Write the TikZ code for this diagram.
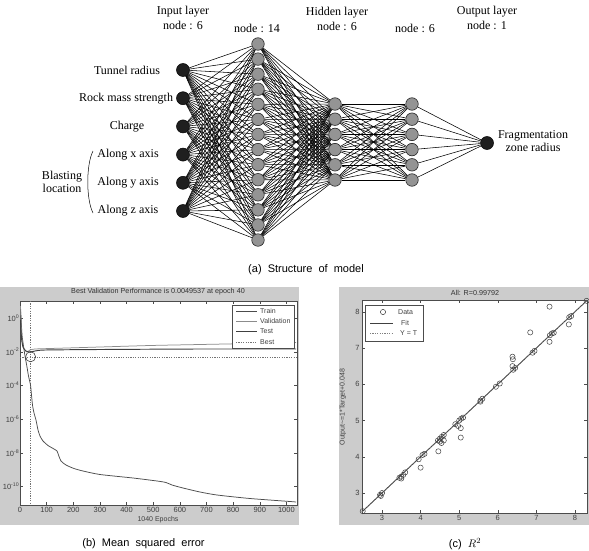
\documentclass[tikz,border=0pt]{standalone}
\usepackage{fontspec}
\setmainfont{Liberation Serif}
\newfontfamily\plotfont{Liberation Sans}
\begin{document}
\begin{tikzpicture}[x=1pt,y=-1pt,
  nin/.style={circle, fill=black!88, draw=black, line width=0.5pt, minimum size=13pt, inner sep=0pt},
  nhid/.style={circle, fill=black!42, draw=black!85, line width=0.6pt, minimum size=12.5pt, inner sep=0pt},
  wire/.style={line width=0.55pt, black},
  lbl/.style={font=\fontsize{12}{15.5}\selectfont, align=center, inner sep=0pt},
  sidelbl/.style={font=\fontsize{12}{13}\selectfont, align=center, inner sep=0pt},
  captxt/.style={font=\plotfont\fontsize{11}{13}\selectfont, inner sep=0pt},
  axlbl/.style={font=\plotfont\fontsize{7}{8}\selectfont, text=black!75, inner sep=1pt},
  ticklbl/.style={font=\plotfont\fontsize{7.5}{8}\selectfont, text=black!75, inner sep=1.5pt},
  ttl/.style={font=\plotfont\fontsize{7.2}{8}\selectfont, text=black!80, inner sep=0pt},
  panel/.style={fill=black!20, draw=none},
  axbox/.style={fill=white, draw=black!70, line width=0.5pt},
  tk/.style={draw=black!70, line width=0.4pt},
  datapt/.style={circle, draw=black!75, line width=0.5pt, minimum size=5.2pt, inner sep=0pt}
]
\useasboundingbox (0,0) rectangle (589,551);

% ---------------- network ----------------
\foreach \i [count=\n] in {70,98.2,126.4,154.6,182.8,211}
  \node[nin] (i\n) at (183,\i) {};
\foreach \j in {1,...,14}
  \node[nhid] (a\j) at (258,{44+15.08*(\j-1)}) {};
\foreach \k in {1,...,6} {
  \node[nhid] (b\k) at (335,{104+15.2*(\k-1)}) {};
  \node[nhid] (c\k) at (412,{104+15.2*(\k-1)}) {};
}
\node[nin] (o) at (487,143) {};

\foreach \i in {1,...,6}
  \foreach \j in {1,...,14}
    \draw[wire] (i\i) -- (a\j);
\foreach \j in {1,...,14}
  \foreach \k in {1,...,6}
    \draw[wire] (a\j) -- (b\k);
\foreach \k in {1,...,6}
  \foreach \m in {1,...,6}
    \draw[wire] (b\k) -- (c\m);
\foreach \k in {1,...,6}
  \draw[wire] (c\k) -- (o);

% layer headings
\node[lbl] (hin) at (183,18) {Input layer\\node : 6};
\node[lbl] (ha) at (257,28) {node : 14};
\node[lbl] (hb) at (337,19) {Hidden layer\\node : 6};
\node[lbl] (hc) at (415,28) {node : 6};
\node[lbl] (ho) at (487,18) {Output layer\\node : 1};

% input and output names
\node[sidelbl] (t1) at (127,70) {Tunnel radius};
\node[sidelbl] (t2) at (126,98.2) {Rock mass strength};
\node[sidelbl] (t3) at (127,126.4) {Charge};
\node[sidelbl] (t4) at (128,154.6) {Along x axis};
\node[sidelbl] (t5) at (128,182.8) {Along y axis};
\node[sidelbl] (t6) at (128,211) {Along z axis};
\node[sidelbl] (bl) at (62,182) {Blasting\\location};
\draw[line width=0.5pt] (93,151) .. controls (86,165) and (86,199) .. (93,213);
\node[sidelbl] (fz) at (533,141) {Fragmentation\\zone radius};

\node[captxt] (capa) at (306,270) {(a)\ \ Structure\ \ of\ \ model};

% ---------------- mean squared error ----------------
\fill[panel] (0,287) rectangle (299,525);
\draw[axbox] (20,301) rectangle (297,505);
\node[ttl] (tl) at (158,292) {Best Validation Performance is 0.0049537 at epoch 40};
\begin{scope}[shift={(20,318)}, x=0.2664pt, y=16.85pt]
  \foreach \e in {0,100,...,1000} {
    \draw[tk] (\e,-11.1) -- ++(0,0.18);
    \draw[tk] (\e,1.0) -- ++(0,-0.18);
    \node[ticklbl, below] at (\e,-11.15) {\e};
  }
  \foreach \d in {0,-2,-4,-6,-8,-10} {
    \draw[tk] (0,\d) -- ++(11,0);
    \draw[tk] (1040,\d) -- ++(-11,0);
    \node[ticklbl, left, inner sep=0.5pt] at (0,\d) {10\textsuperscript{\d}};
  }
\end{scope}
\node[axlbl] (xl) at (158,520) {1040 Epochs};

\draw[black!55, dash pattern=on 1.2pt off 1.2pt, line width=0.4pt] (30.6,301) -- (30.6,505);
\draw[black!55, dash pattern=on 1.2pt off 1.2pt, line width=0.4pt] (20,356.8) -- (297,356.8);
% train
\draw[black!70, line width=0.75pt] plot[smooth, tension=0.4] coordinates {
  (20.5,310) (21.2,320) (22,335) (23.5,346) (25,356) (27,367) (28.5,376) (30.5,385)
  (31.5,395) (32.5,405) (34,413) (36,420) (38,430) (40,436) (43,441) (48,445.5)
  (54,449) (57,451) (58.5,455) (61,461) (66,465) (74,468.5) (83,471) (100,474.5)
  (133,478) (157,481) (166,482.5) (172,485) (183,488) (200,492) (217,495)
  (250,498.5) (290,501.5) (296,502)};
% validation
\draw[black!45, line width=0.75pt] plot[smooth, tension=0.4] coordinates {
  (20.5,306) (21.5,330) (22.5,344) (24,349) (27,352) (30,350) (35,349)
  (50,348.5) (100,347) (150,345.5) (200,344.5) (250,343.5) (296,342.5)};
% test
\draw[black!75, line width=0.95pt] plot[smooth, tension=0.4] coordinates {
  (20.5,320) (21.5,338) (23,347) (26,351) (30,352) (35,351) (45,350)
  (100,349.5) (200,349) (296,349)};
\draw[black!75, line width=0.6pt] (30.6,356.8) circle (5);

% legend
\draw[fill=white, draw=black!70, line width=0.4pt] (232,305) rectangle (294,348);
\draw[black!70, line width=0.75pt] (236,311) -- (257,311);
\draw[black!45, line width=0.75pt] (236,321) -- (257,321);
\draw[black!75, line width=1.1pt] (236,331.5) -- (257,331.5);
\draw[black!55, dash pattern=on 1.2pt off 1.2pt, line width=0.4pt] (236,342) -- (257,342);
\node[axlbl, anchor=west] (lg1) at (259,311) {Train};
\node[axlbl, anchor=west] (lg2) at (259,321) {Validation};
\node[axlbl, anchor=west] (lg3) at (259,331.5) {Test};
\node[axlbl, anchor=west] (lg4) at (259,342) {Best};

\node[captxt] (capb) at (143.5,544) {(b)\ \ Mean\ \ squared\ \ error};

% ---------------- regression ----------------
\fill[panel] (339,287) rectangle (589,525);
\draw[axbox] (362,300) rectangle (587,513);
\node[ttl] (tr) at (475,293) {All: R=0.99792};
\begin{scope}[shift={(266.2,601.8)}, x=38.6pt, y=36.26pt]
  \foreach \v in {3,...,8} {
    \draw[tk] (\v,2.45) -- ++(0,0.08);
    \draw[tk] (\v,8.32) -- ++(0,-0.08);
    \node[ticklbl, below] at (\v,2.43) {\v};
    \draw[tk] (2.48,\v) -- ++(0.08,0);
    \draw[tk] (8.31,\v) -- ++(-0.08,0);
    \node[ticklbl, left] at (2.46,\v) {\v};
  }
  \draw[black!75, line width=0.9pt] (2.48,2.48) -- (8.31,8.31);
  \draw[black!50, dash pattern=on 1.2pt off 1.2pt, line width=0.4pt] (2.48,2.48) -- (8.31,8.31);
  \foreach \p in {
    (2.5,2.5), (2.95,2.95), (3.0,3.0), (2.97,2.92),
    (3.45,3.42), (3.5,3.45), (3.55,3.5), (3.5,3.4), (3.6,3.57),
    (3.95,3.93), (4.05,4.05), (4.1,4.08), (4.0,3.7),
    (4.45,4.45), (4.5,4.5), (4.55,4.55), (4.6,4.6), (4.5,4.42),
    (4.46,4.15), (4.54,4.38), (4.6,4.45),
    (4.9,4.9), (5.0,5.0), (5.05,5.05), (5.1,5.08),
    (5.04,4.79), (4.97,4.85), (5.04,4.53),
    (5.55,5.55), (5.6,5.6), (5.55,5.52),
    (5.95,5.93), (6.05,6.02),
    (6.4,6.4), (6.45,6.45), (6.38,6.5), (6.38,6.76), (6.39,6.69),
    (6.9,6.87), (6.95,6.92), (6.84,7.43),
    (7.35,7.35), (7.4,7.4), (7.45,7.42), (7.34,8.14), (7.34,7.17),
    (7.85,7.85), (7.9,7.88), (7.84,7.65), (8.3,8.3)}
    \node[datapt] at \p {};
\end{scope}
\node[axlbl, rotate=90] (yl) at (343,407) {Output\textasciitilde=1*Target+0.048};

% legend
\draw[fill=white, draw=black!70, line width=0.4pt] (365,305) rectangle (423,341);
\node[datapt] (ld) at (383,312) {};
\draw[black!75, line width=0.9pt] (370,323) -- (393,323);
\draw[black!50, dash pattern=on 1.2pt off 1.2pt, line width=0.4pt] (370,333) -- (393,333);
\node[axlbl, anchor=west] (r1) at (397,312) {Data};
\node[axlbl, anchor=west] (r2) at (400,323) {Fit};
\node[axlbl, anchor=west] (r3) at (399,333) {Y = T};

\node[captxt] (capc) at (465,544) {(c)\ \ $R^2$};
\end{tikzpicture}
\end{document}
